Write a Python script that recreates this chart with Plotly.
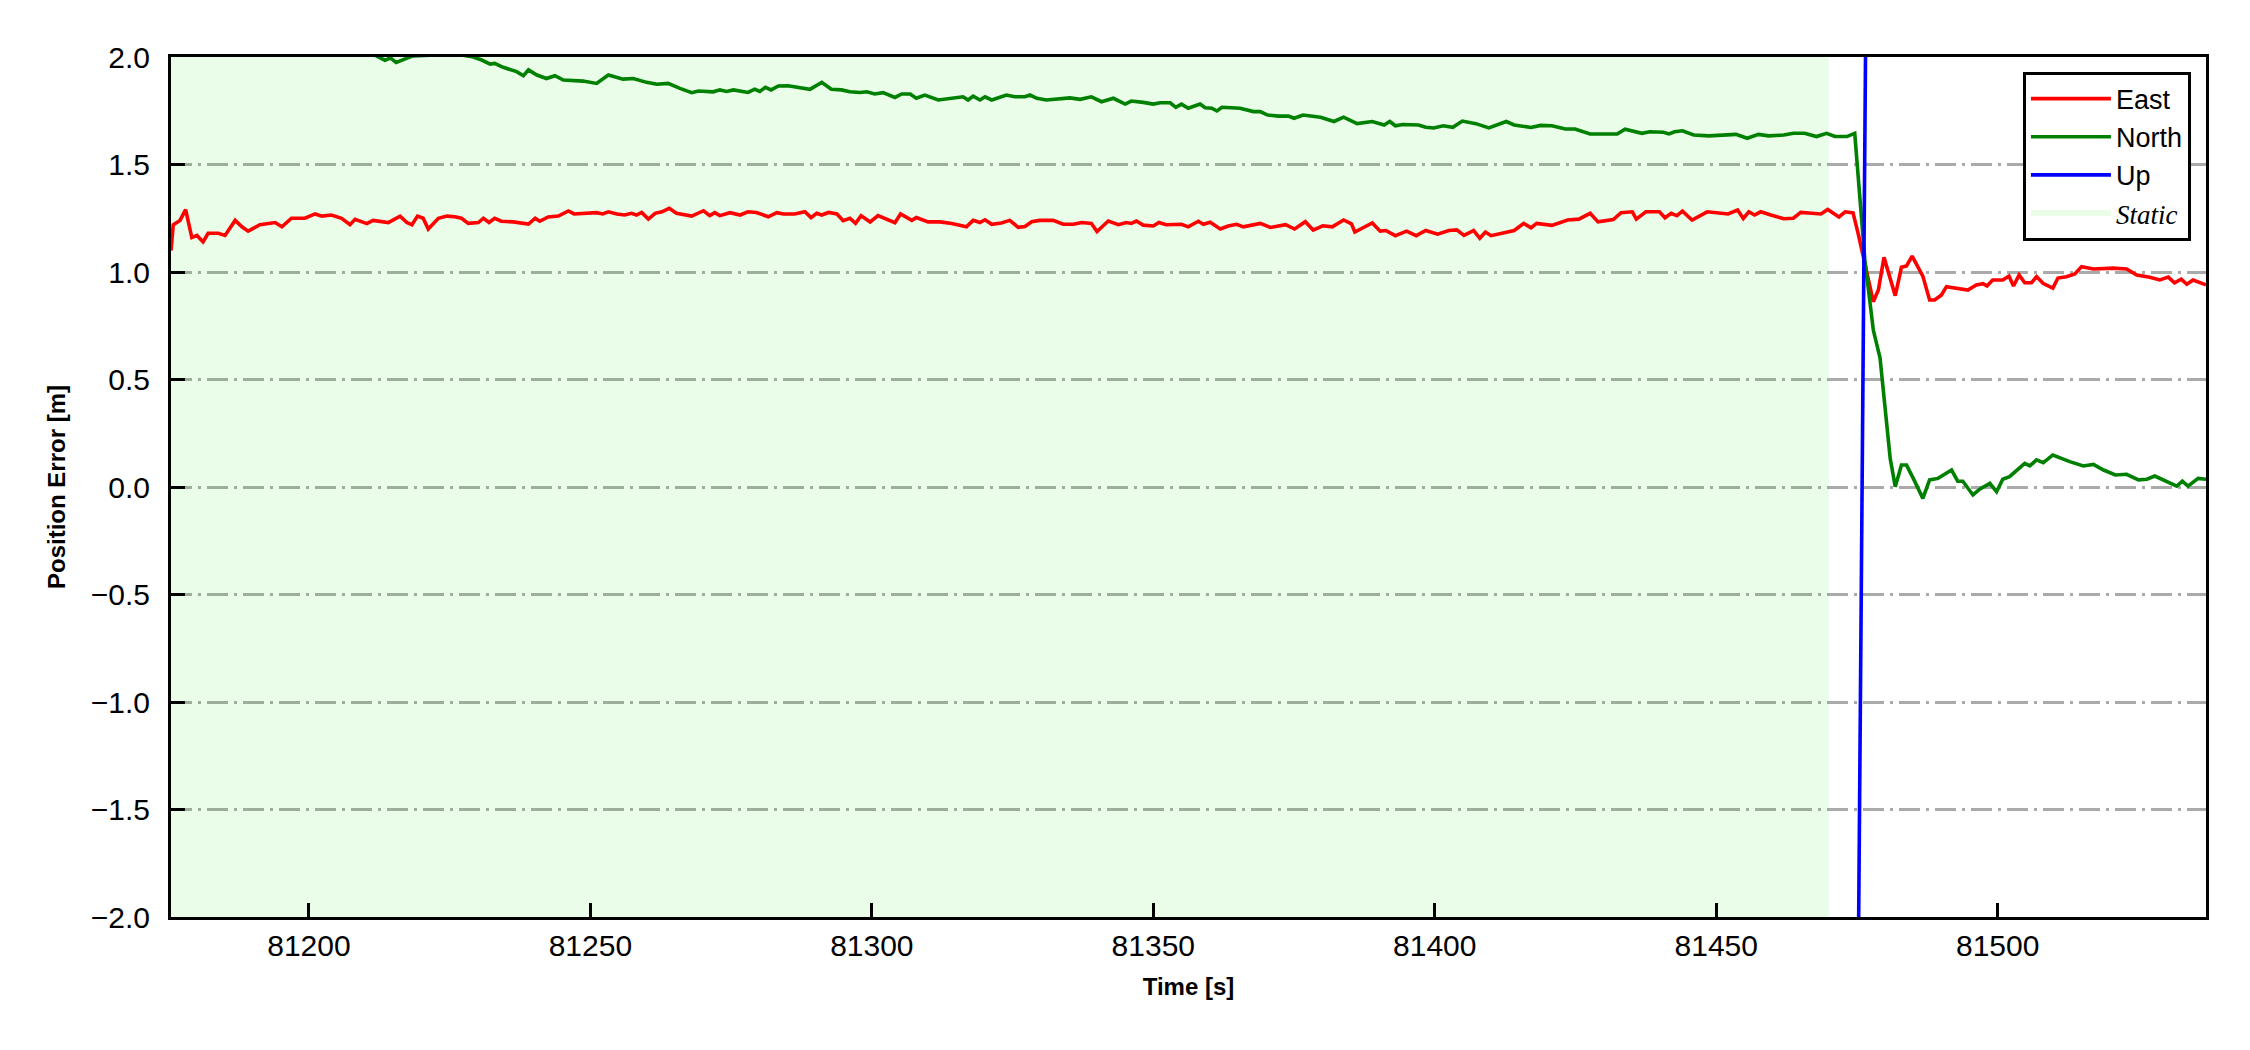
import plotly.graph_objects as go

# ---------------- data ----------------
east_t = [81175.5, 81175.9, 81177.1, 81178.1, 81179.2, 81180.1, 81181.2, 81182.1, 81183.9, 81185.1,
          81186.9, 81188.1, 81189.2, 81191.3, 81194.0, 81195.2, 81196.9, 81199.3, 81201.1, 81202.3,
          81204.0, 81205.8, 81207.3, 81208.2, 81210.3, 81211.4, 81214.1, 81216.2, 81217.4, 81218.3,
          81219.3, 81220.3, 81221.2, 81223.0, 81224.5, 81225.9, 81227.1, 81228.3, 81230.1, 81231.0,
          81232.0, 81233.0, 81234.2, 81236.3, 81239.0, 81240.2, 81241.0, 81242.5, 81244.3, 81246.1,
          81247.1, 81248.7, 81251.1, 81252.2, 81253.2, 81254.7, 81256.1, 81257.3, 81258.2, 81259.1,
          81260.3, 81261.5, 81262.7, 81264.0, 81265.3, 81268.0, 81270.1, 81271.2, 81272.1, 81273.0,
          81274.8, 81276.6, 81278.0, 81279.5, 81281.6, 81283.1, 81284.3, 81286.3, 81288.1, 81289.2,
          81290.2, 81291.1, 81292.3, 81293.8, 81294.9, 81296.1, 81297.1, 81298.1, 81299.7, 81301.1,
          81302.6, 81304.1, 81305.1, 81307.1, 81307.9, 81310.0, 81312.1, 81314.2, 81316.8, 81318.0,
          81319.2, 81320.1, 81321.3, 81323.0, 81324.5, 81326.0, 81327.2, 81328.4, 81329.8, 81332.2,
          81334.0, 81335.8, 81337.3, 81339.0, 81340.0, 81342.0, 81343.8, 81345.2, 81346.1, 81347.0,
          81348.2, 81350.0, 81351.0, 81352.3, 81355.0, 81356.2, 81358.0, 81358.9, 81360.1, 81361.9,
          81363.3, 81364.8, 81366.0, 81369.0, 81370.8, 81373.5, 81375.1, 81377.0, 81378.4, 81380.1,
          81381.8, 81383.8, 81385.2, 81385.8, 81388.9, 81390.3, 81391.3, 81393.0, 81395.0, 81396.7,
          81398.4, 81400.5, 81402.5, 81403.9, 81405.2, 81406.9, 81408.0, 81409.0, 81410.0, 81411.7,
          81414.1, 81415.8, 81417.1, 81418.1, 81420.8, 81423.6, 81425.6, 81427.6, 81429.0, 81431.7,
          81433.1, 81435.1, 81435.8, 81437.5, 81439.9, 81440.9, 81442.0, 81443.0, 81444.0, 81445.7,
          81448.4, 81452.1, 81453.8, 81454.8, 81455.8, 81456.8, 81457.9, 81459.7, 81462.0, 81463.7,
          81465.0, 81467.0, 81468.6, 81469.8, 81471.8, 81472.9, 81474.3, 81475.2, 81476.1, 81477.9,
          81478.8, 81479.8, 81481.8, 81482.9, 81483.8, 81484.8, 81486.7, 81487.9, 81488.8, 81490.0,
          81490.9, 81492.7, 81494.7, 81496.2, 81497.4, 81498.1, 81499.1, 81500.9, 81502.0, 81502.8,
          81503.8, 81504.8, 81506.0, 81506.9, 81508.1, 81509.8, 81510.7, 81512.2, 81513.7, 81514.9,
          81517.0, 81520.5, 81522.9, 81524.7, 81527.0, 81528.8, 81530.3, 81531.4, 81532.6, 81533.6,
          81534.7, 81537.0]
east_v = [1.10, 1.22, 1.24, 1.29, 1.16, 1.17, 1.14, 1.18, 1.18, 1.17,
          1.24, 1.21, 1.19, 1.22, 1.23, 1.21, 1.25, 1.25, 1.27, 1.26,
          1.265, 1.25, 1.22, 1.245, 1.225, 1.24, 1.23, 1.26, 1.23, 1.22,
          1.26, 1.25, 1.20, 1.25, 1.26, 1.257, 1.25, 1.226, 1.23, 1.25,
          1.23, 1.25, 1.236, 1.233, 1.223, 1.25, 1.236, 1.256, 1.26, 1.284,
          1.27, 1.273, 1.276, 1.27, 1.28, 1.27, 1.265, 1.273, 1.265, 1.277,
          1.246, 1.273, 1.28, 1.296, 1.273, 1.26, 1.285, 1.262, 1.276, 1.262,
          1.276, 1.265, 1.28, 1.277, 1.257, 1.276, 1.27, 1.27, 1.28, 1.253,
          1.273, 1.265, 1.277, 1.27, 1.239, 1.25, 1.226, 1.262, 1.233, 1.262,
          1.246, 1.229, 1.27, 1.24, 1.253, 1.233, 1.233, 1.226, 1.21, 1.24,
          1.23, 1.243, 1.222, 1.228, 1.24, 1.208, 1.212, 1.234, 1.24, 1.24,
          1.222, 1.222, 1.23, 1.226, 1.188, 1.237, 1.22, 1.23, 1.226, 1.237,
          1.218, 1.214, 1.23, 1.22, 1.222, 1.21, 1.236, 1.222, 1.231, 1.20,
          1.214, 1.222, 1.21, 1.226, 1.207, 1.22, 1.20, 1.234, 1.195, 1.215,
          1.21, 1.242, 1.224, 1.186, 1.228, 1.19, 1.193, 1.169, 1.19, 1.169,
          1.193, 1.176, 1.193, 1.196, 1.17, 1.193, 1.157, 1.186, 1.169, 1.18,
          1.193, 1.226, 1.206, 1.226, 1.217, 1.242, 1.246, 1.273, 1.233, 1.244,
          1.276, 1.28, 1.246, 1.28, 1.28, 1.252, 1.273, 1.262, 1.283, 1.242,
          1.28, 1.27, 1.288, 1.249, 1.28, 1.265, 1.28, 1.265, 1.248, 1.25,
          1.277, 1.273, 1.27, 1.291, 1.256, 1.28, 1.275, 1.18, 1.071, 0.862,
          0.916, 1.068, 0.89, 1.022, 1.028, 1.074, 0.981, 0.87, 0.87, 0.893,
          0.932, 0.925, 0.916, 0.94, 0.946, 0.935, 0.963, 0.963, 0.981, 0.935,
          0.986, 0.95, 0.95, 0.978, 0.946, 0.925, 0.972, 0.978, 0.991, 1.025,
          1.014, 1.018, 1.014, 0.986, 0.976, 0.963, 0.976, 0.95, 0.967, 0.943,
          0.963, 0.94]

north_t = [81175.5, 81195.0, 81208.0, 81212.0, 81213.5, 81214.5, 81215.5, 81217.0, 81218.5, 81223.0,
           81227.0, 81229.2, 81230.7, 81232.2, 81233.0, 81234.5, 81236.9, 81238.1, 81239.0, 81240.5,
           81242.2, 81243.7, 81245.2, 81248.7, 81251.1, 81253.2, 81255.8, 81257.6, 81260.0, 81261.8,
           81263.8, 81265.9, 81268.0, 81269.2, 81271.8, 81273.0, 81274.2, 81275.4, 81276.6, 81278.0,
           81279.2, 81280.1, 81281.1, 81282.1, 81283.4, 81285.1, 81289.0, 81291.1, 81292.8, 81294.6,
           81296.1, 81297.9, 81299.1, 81300.5, 81302.0, 81304.1, 81305.3, 81306.8, 81307.9, 81309.4,
           81311.8, 81314.8, 81316.2, 81317.1, 81318.0, 81319.2, 81320.1, 81321.3, 81323.9, 81325.4,
           81327.2, 81328.1, 81329.3, 81331.0, 81332.8, 81335.2, 81337.0, 81339.0, 81340.8, 81342.9,
           81345.0, 81346.1, 81348.2, 81350.0, 81351.2, 81353.0, 81354.0, 81355.0, 81356.2, 81357.7,
           81358.3, 81359.2, 81360.4, 81361.3, 81362.2, 81365.4, 81367.8, 81369.0, 81370.3, 81372.3,
           81374.0, 81375.0, 81376.6, 81379.7, 81382.1, 81383.8, 81386.2, 81388.9, 81391.0, 81392.0,
           81393.0, 81394.3, 81397.1, 81398.4, 81399.8, 81401.5, 81403.2, 81404.9, 81407.3, 81409.6,
           81411.0, 81412.7, 81414.1, 81417.1, 81418.8, 81420.8, 81423.2, 81424.9, 81427.6, 81429.0,
           81432.4, 81433.8, 81436.8, 81438.2, 81440.6, 81441.6, 81442.6, 81444.0, 81446.0, 81448.7,
           81451.4, 81453.5, 81455.5, 81457.5, 81459.3, 81462.0, 81463.7, 81465.7, 81467.8, 81469.6,
           81471.1, 81473.2, 81474.6, 81476.4, 81477.9, 81479.1, 81480.9, 81481.8, 81482.9, 81483.8,
           81485.0, 81486.7, 81487.9, 81489.4, 81491.8, 81492.9, 81493.8, 81495.6, 81496.8, 81498.6,
           81499.8, 81500.9, 81502.1, 81504.8, 81505.7, 81506.9, 81508.1, 81509.8, 81512.8, 81515.2,
           81517.0, 81518.8, 81520.9, 81522.9, 81525.0, 81526.5, 81527.9, 81530.0, 81531.8, 81532.8,
           81533.8, 81535.6, 81537.0]
north_v = [2.30, 2.15, 2.05, 2.005, 1.985, 1.995, 1.975, 1.99, 2.005, 2.01,
           2.01, 2.0, 1.986, 1.967, 1.97, 1.952, 1.932, 1.913, 1.94, 1.916,
           1.90, 1.913, 1.893, 1.888, 1.877, 1.916, 1.897, 1.90, 1.882, 1.873,
           1.877, 1.854, 1.834, 1.842, 1.838, 1.847, 1.84, 1.847, 1.84, 1.835,
           1.85, 1.84, 1.859, 1.847, 1.865, 1.866, 1.85, 1.882, 1.85, 1.847,
           1.838, 1.835, 1.838, 1.828, 1.834, 1.812, 1.828, 1.828, 1.808, 1.823,
           1.80, 1.808, 1.815, 1.80, 1.818, 1.80, 1.815, 1.80, 1.823, 1.815,
           1.815, 1.823, 1.808, 1.80, 1.805, 1.81, 1.803, 1.815, 1.792, 1.808,
           1.781, 1.795, 1.789, 1.781, 1.787, 1.787, 1.766, 1.781, 1.762, 1.776,
           1.781, 1.764, 1.762, 1.749, 1.766, 1.762, 1.746, 1.746, 1.73, 1.725,
           1.725, 1.715, 1.73, 1.72, 1.70, 1.72, 1.69, 1.70, 1.684, 1.70,
           1.68, 1.686, 1.684, 1.673, 1.67, 1.68, 1.673, 1.702, 1.69, 1.67,
           1.684, 1.70, 1.684, 1.672, 1.682, 1.68, 1.665, 1.665, 1.642, 1.642,
           1.642, 1.664, 1.645, 1.652, 1.65, 1.642, 1.652, 1.657, 1.637, 1.633,
           1.636, 1.64, 1.622, 1.64, 1.633, 1.637, 1.645, 1.645, 1.63, 1.645,
           1.63, 1.63, 1.645, 1.056, 0.73, 0.60, 0.133, 0.001, 0.102, 0.102,
           0.04, -0.053, 0.033, 0.04, 0.079, 0.027, 0.027, -0.037, -0.01, 0.017,
           -0.022, 0.036, 0.048, 0.11, 0.098, 0.126, 0.113, 0.149, 0.118, 0.098,
           0.105, 0.079, 0.056, 0.059, 0.033, 0.036, 0.051, 0.027, 0.004, 0.027,
           0.004, 0.04, 0.036]

up_t = [81475.0, 81477.0]
up_v = [-3.0, 3.6]

static_start = 81175.5
static_end = 81470.0

x_range = [81175.5, 81537.0]
y_range = [-2.0, 2.0]
x_ticks = [81200, 81250, 81300, 81350, 81400, 81450, 81500]
y_ticks = [-2.0, -1.5, -1.0, -0.5, 0.0, 0.5, 1.0, 1.5, 2.0]

# ---------------- figure ----------------
fig = go.Figure()

fig.add_trace(go.Scatter(
    x=[static_start, static_end, static_end, static_start, static_start],
    y=[y_range[0], y_range[0], y_range[1], y_range[1], y_range[0]],
    mode="none", fill="toself", fillcolor="rgba(0,230,0,0.085)",
    name="<span style='font-family:Liberation Serif'><i>Static</i></span>",
    legendrank=4, hoverinfo="skip"))

fig.add_trace(go.Scatter(x=east_t, y=east_v, mode="lines", name="East",
                         line=dict(color="#ff0000", width=3.6), legendrank=1))
fig.add_trace(go.Scatter(x=north_t, y=north_v, mode="lines", name="North",
                         line=dict(color="#008000", width=3.6), legendrank=2))
fig.add_trace(go.Scatter(x=up_t, y=up_v, mode="lines", name="Up",
                         line=dict(color="#0000ff", width=3.6), legendrank=3))

axis_font = dict(family="Liberation Sans, Arial, sans-serif", size=30, color="black")
title_font = dict(family="Liberation Sans, Arial, sans-serif", size=24, color="black")

fig.update_xaxes(
    range=x_range, tickvals=x_ticks, tickformat="d",
    ticks="inside", ticklen=14, tickwidth=3, tickcolor="black",
    showline=True, linewidth=3, linecolor="black", mirror=True,
    showgrid=False, zeroline=False, tickfont=axis_font,
    ticklabelstandoff=0,
    title=dict(text="<b>Time [s]</b>", font=title_font, standoff=18),
)
fig.update_yaxes(
    range=y_range, tickvals=y_ticks, tickformat=".1f",
    ticks="inside", ticklen=14, tickwidth=3, tickcolor="black",
    showline=True, linewidth=3, linecolor="black", mirror=True,
    showgrid=True, gridcolor="#aaaaaa", gridwidth=2.5, griddash="21px,6px,3px,6px",
    zeroline=False, tickfont=axis_font,
    ticklabelstandoff=12,
    title=dict(text="<b>Position Error [m]</b>", font=title_font, standoff=19),
)

# page body has an 8px default margin: the figure is sized so that it fills the window
fig.update_layout(
    width=2242, height=1042,
    margin=dict(l=163, r=44, t=49, b=133),
    paper_bgcolor="white", plot_bgcolor="white",
    font=dict(family="Liberation Sans, Arial, sans-serif", color="black"),
    legend=dict(x=0.9926, y=0.983, xanchor="right", yanchor="top",
                bgcolor="white", bordercolor="black", borderwidth=3,
                font=dict(family="Liberation Sans, Arial, sans-serif", size=27, color="black"),
                itemwidth=80, tracegroupgap=0),
    showlegend=True,
)

fig.write_html("out.html")
